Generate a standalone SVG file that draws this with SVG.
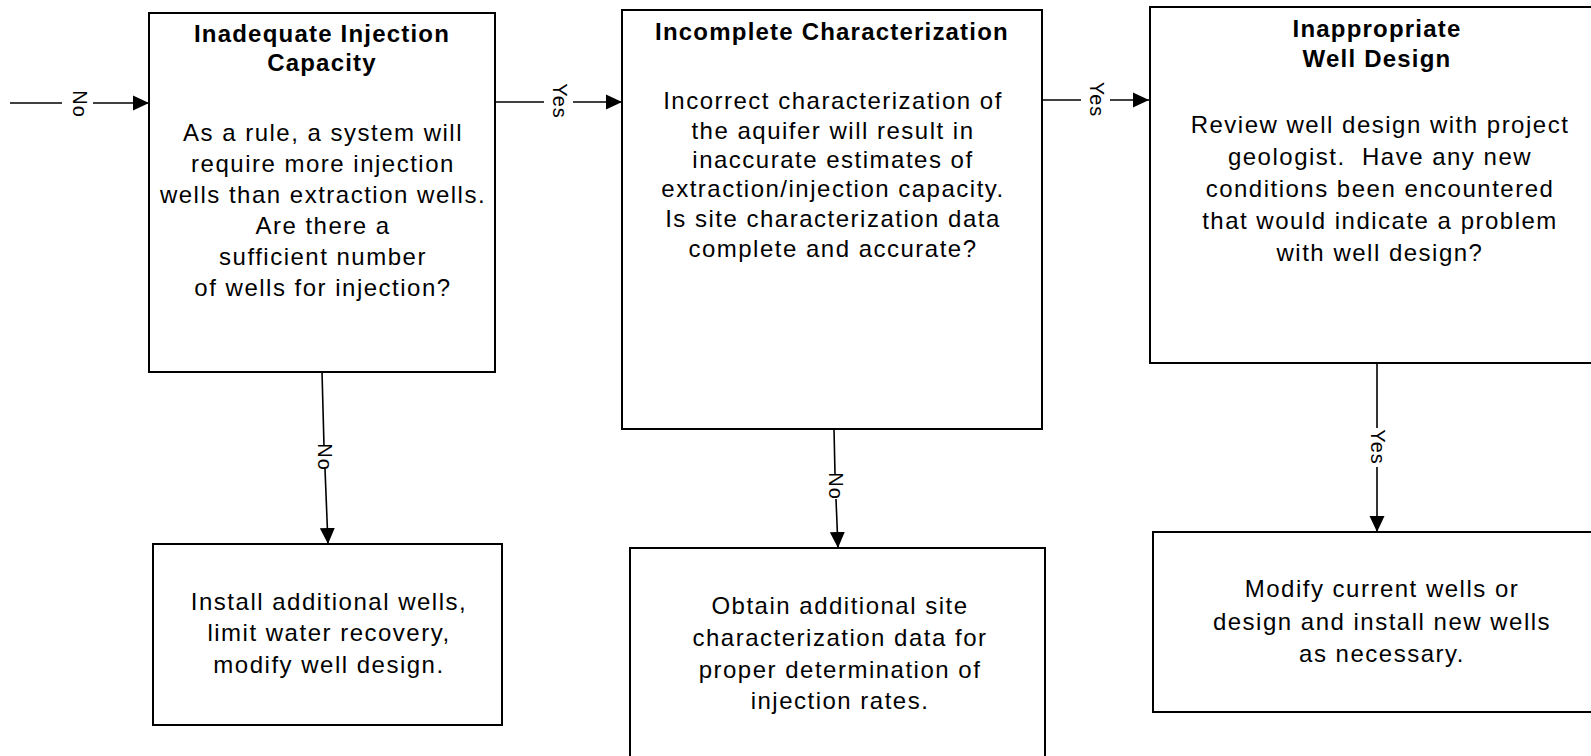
<svg xmlns="http://www.w3.org/2000/svg" width="1591" height="756" viewBox="0 0 1591 756">
<style>
.box{fill:#fff;stroke:#000;stroke-width:2}
.t{font-family:"Liberation Sans",Arial,sans-serif;font-size:24px;letter-spacing:1.5px;text-anchor:middle;fill:#000}
.h{font-family:"Liberation Sans",Arial,sans-serif;font-size:24px;font-weight:bold;letter-spacing:1.2px;text-anchor:middle;fill:#000}
.lbl{font-family:"Liberation Sans",Arial,sans-serif;font-size:20px;letter-spacing:1px;text-anchor:middle;fill:#000}
.ln{fill:none;stroke:#000;stroke-width:1.6}
</style>
<defs>
<marker id="ah" markerUnits="userSpaceOnUse" markerWidth="17" markerHeight="16" viewBox="0 0 17 16" refX="16" refY="8" orient="auto">
<path d="M0,0.5 L16,8 L0,15.5 Z" fill="#000"/>
</marker>
</defs>
<g id="connectors">
<path class="ln" d="M10,103 H62"/>
<path class="ln" d="M93,103 H149" marker-end="url(#ah)"/>
<path class="ln" d="M495,102 H544"/>
<path class="ln" d="M573,102 H622" marker-end="url(#ah)"/>
<path class="ln" d="M1042,100 H1081"/>
<path class="ln" d="M1110,100 H1149" marker-end="url(#ah)"/>
<path class="ln" d="M322,372 L324,446"/>
<path class="ln" d="M325,469 L328,544" marker-end="url(#ah)"/>
<path class="ln" d="M834,429 L835,474"/>
<path class="ln" d="M836,499 L838,548" marker-end="url(#ah)"/>
<path class="ln" d="M1377,364 V428"/>
<path class="ln" d="M1377,467 V532" marker-end="url(#ah)"/>
<text class="lbl" transform="translate(72.5,104) rotate(90)">No</text>
<text class="lbl" transform="translate(552.5,101) rotate(90)">Yes</text>
<text class="lbl" transform="translate(1089.5,99.5) rotate(90)">Yes</text>
<text class="lbl" transform="translate(317.5,457) rotate(90)">No</text>
<text class="lbl" transform="translate(828.5,486) rotate(90)">No</text>
<text class="lbl" transform="translate(1370.5,447) rotate(90)">Yes</text>
</g>
<g id="node-inadequate">
<rect class="box" x="149" y="13" width="346" height="359"/>
<text class="h" x="322" y="42">Inadequate Injection</text>
<text class="h" x="322" y="71">Capacity</text>
<text class="t" x="323" y="141">As a rule, a system will</text>
<text class="t" x="323" y="172">require more injection</text>
<text class="t" x="323" y="203">wells than extraction wells.</text>
<text class="t" x="323" y="234">Are there a</text>
<text class="t" x="323" y="265">sufficient number</text>
<text class="t" x="323" y="296">of wells for injection?</text>
</g>
<g id="node-incomplete">
<rect class="box" x="622" y="10" width="420" height="419"/>
<text class="h" x="832" y="40">Incomplete Characterization</text>
<text class="t" x="833" y="109">Incorrect characterization of</text>
<text class="t" x="833" y="139">the aquifer will result in</text>
<text class="t" x="833" y="168">inaccurate estimates of</text>
<text class="t" x="833" y="197">extraction/injection capacity.</text>
<text class="t" x="833" y="227">Is site characterization data</text>
<text class="t" x="833" y="257">complete and accurate?</text>
</g>
<g id="node-inappropriate">
<rect class="box" x="1150" y="7" width="460" height="356"/>
<text class="h" x="1377" y="37">Inappropriate</text>
<text class="h" x="1377" y="67">Well Design</text>
<text class="t" x="1380" y="133">Review well design with project</text>
<text class="t" x="1380" y="165">geologist. &#160;Have any new</text>
<text class="t" x="1380" y="197">conditions been encountered</text>
<text class="t" x="1380" y="229">that would indicate a problem</text>
<text class="t" x="1380" y="261">with well design?</text>
</g>
<g id="node-install">
<rect class="box" x="153" y="544" width="349" height="181"/>
<text class="t" x="329" y="610">Install additional wells,</text>
<text class="t" x="329" y="641">limit water recovery,</text>
<text class="t" x="329" y="673">modify well design.</text>
</g>
<g id="node-obtain">
<rect class="box" x="630" y="548" width="415" height="209"/>
<text class="t" x="840" y="614">Obtain additional site</text>
<text class="t" x="840" y="646">characterization data for</text>
<text class="t" x="840" y="678">proper determination of</text>
<text class="t" x="840" y="709">injection rates.</text>
</g>
<g id="node-modify">
<rect class="box" x="1153" y="532" width="460" height="180"/>
<text class="t" x="1382" y="597">Modify current wells or</text>
<text class="t" x="1382" y="630">design and install new wells</text>
<text class="t" x="1382" y="662">as necessary.</text>
</g>
</svg>
